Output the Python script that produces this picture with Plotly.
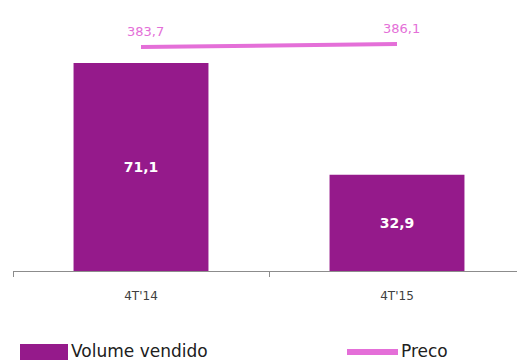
import plotly.graph_objects as go

categories = ["4T'14", "4T'15"]
volume = [71.1, 32.9]
preco = [383.7, 386.1]

bar_color = "#951A8B"
line_color = "#E46FD8"
font_family = "DejaVu Sans"

fig = go.Figure()
fig.add_trace(go.Bar(
    x=categories, y=volume, name="Volume vendido",
    marker=dict(color=bar_color, line=dict(width=0)),
    width=0.527,
    texttemplate="<b>%{y:.1f}</b>", textposition="inside", insidetextanchor="middle",
    textfont=dict(color="white", size=14, family=font_family),
    showlegend=False,
))
fig.add_trace(go.Scatter(
    x=categories, y=preco, name="Preco", yaxis="y2",
    mode="lines", line=dict(color=line_color, width=4),
    showlegend=False, cliponaxis=False,
))
for c, v in zip(categories, preco):
    fig.add_annotation(x=c, y=v, yref="y2", text=f"{v:.1f}".replace(".", ","),
                       showarrow=False, yanchor="bottom", xshift=4, yshift=6,
                       font=dict(color=line_color, size=13, family=font_family))

# custom legend
fig.add_shape(type="rect", xref="paper", yref="paper",
              x0=7 / 504, x1=55 / 504, y0=-89 / 251, y1=-73 / 251,
              fillcolor=bar_color, line=dict(width=0))
fig.add_annotation(xref="paper", yref="paper", x=56 / 504, y=-80 / 251,
                   text="Volume vendido", showarrow=False, xanchor="left", yanchor="middle",
                   font=dict(size=17, color="#202020", family=font_family))
fig.add_shape(type="line", xref="paper", yref="paper",
              x0=334 / 504, x1=385 / 504, y0=-81 / 251, y1=-81 / 251,
              line=dict(color=line_color, width=6))
fig.add_annotation(xref="paper", yref="paper", x=386 / 504, y=-80 / 251,
                   text="Preco", showarrow=False, xanchor="left", yanchor="middle",
                   font=dict(size=17, color="#202020", family=font_family))

fig.update_layout(
    width=517, height=360,
    margin=dict(l=13, r=0, t=20, b=89),
    plot_bgcolor="white", paper_bgcolor="white",
    separators=",.",
    font=dict(family=font_family),
    xaxis=dict(
        type="category", range=[-0.5, 1.46875],
        showline=True, linecolor="#8C8C8C", linewidth=1,
        ticks="outside", tickson="boundaries", ticklen=5, tickcolor="#8C8C8C",
        tickfont=dict(size=12, color="#404040", family=font_family),
        ticklabelstandoff=14,
        showgrid=False,
    ),
    yaxis=dict(range=[0, 85.8], visible=False, showgrid=False),
    yaxis2=dict(range=[204.5, 405.3], overlaying="y", visible=False, showgrid=False),
    showlegend=False,
)

fig.write_html("out.html")
